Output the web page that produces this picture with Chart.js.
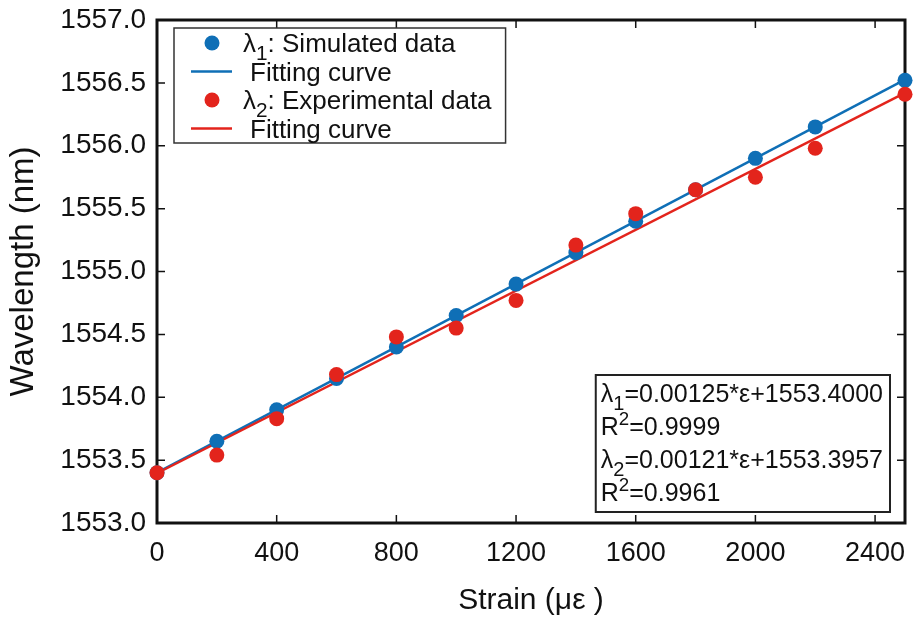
<!DOCTYPE html>
<html>
<head>
<meta charset="utf-8">
<script src="https://cdn.jsdelivr.net/npm/chart.js@4.4.1/dist/chart.umd.min.js"></script>
<style>
  html, body { margin: 0; padding: 0; background: #fff; }
  #wrap { width: 924px; height: 619px; }
</style>
</head>
<body>
<div id="wrap"><canvas id="strainChart"></canvas></div>
<script>
// values
const strain = [0, 200, 400, 600, 800, 1000, 1200, 1400, 1600, 1800, 2000, 2200, 2500];
const simulated = [1553.40, 1553.65, 1553.90, 1554.15, 1554.40, 1554.65, 1554.90, 1555.15, 1555.40, 1555.65, 1555.90, 1556.15, 1556.52];
const experimental = [1553.40, 1553.54, 1553.83, 1554.18, 1554.48, 1554.55, 1554.77, 1555.21, 1555.46, 1555.65, 1555.75, 1555.98, 1556.41];

// fitted lines, end points
const fitStrain = [0, 2500];
const fitSimulated = [1553.4000, 1556.5250];
const fitExperimental = [1553.3957, 1556.4207];

const xTicks = [0, 400, 800, 1200, 1600, 2000, 2400];
const yTicks = [1553.0, 1553.5, 1554.0, 1554.5, 1555.0, 1555.5, 1556.0, 1556.5, 1557.0];

const seriesLabels = ["λ_1: Simulated data", "Fitting curve", "λ_2: Experimental data", "Fitting curve"];
const fitNotes = ["λ_1=0.00125*ε+1553.4000", "R^2=0.9999", "λ_2=0.00121*ε+1553.3957", "R^2=0.9961"];

const BLUE = "#0f6fb6";
const RED = "#e3241c";
const INK = "#111111";
const FONT = "'Liberation Sans', Arial, sans-serif";

function pts(xs, ys) {
  return xs.map((x, i) => ({ x: x, y: ys[i] }));
}

// text with _x subscripts and ^x superscripts, y = baseline
function drawRich(ctx, text, x, y, size, measureOnly) {
  const parts = text.split(/([_^].)/);
  let cx = x;
  parts.forEach((p) => {
    if (!p) return;
    let fs = size, dy = 0, s = p;
    if (p[0] === "_") { s = p.slice(1); fs = size * 0.8; dy = size * 0.3; }
    else if (p[0] === "^") { s = p.slice(1); fs = size * 0.75; dy = -size * 0.42; }
    ctx.font = fs + "px " + FONT;
    if (!measureOnly) ctx.fillText(s, cx, y + dy);
    cx += ctx.measureText(s).width;
  });
  return cx - x;
}

// box frame with inward ticks on all four sides
const frame = {
  id: "frame",
  beforeDatasetsDraw(chart) {
    const { ctx, chartArea: a, scales } = chart;
    ctx.save();
    ctx.strokeStyle = INK;
    ctx.lineWidth = 1.5;
    const len = 8;
    scales.x.ticks.forEach((t) => {
      const px = scales.x.getPixelForValue(t.value);
      ctx.beginPath();
      ctx.moveTo(px, a.bottom); ctx.lineTo(px, a.bottom - len);
      ctx.moveTo(px, a.top); ctx.lineTo(px, a.top + len);
      ctx.stroke();
    });
    scales.y.ticks.forEach((t) => {
      const py = scales.y.getPixelForValue(t.value);
      ctx.beginPath();
      ctx.moveTo(a.left, py); ctx.lineTo(a.left + len, py);
      ctx.moveTo(a.right, py); ctx.lineTo(a.right - len, py);
      ctx.stroke();
    });
    ctx.lineWidth = 3;
    ctx.strokeRect(a.left, a.top, a.right - a.left, a.bottom - a.top);
    ctx.restore();
  },
};

const boxes = {
  id: "boxes",
  afterDatasetsDraw(chart) {
    const { ctx, chartArea: a } = chart;
    ctx.save();
    ctx.textBaseline = "alphabetic";

    // legend, top left
    const size = 26, rowH = 28.5;
    const lx = a.left + 17, ly = a.top + 8;
    let maxW = 0;
    chart.data.datasets.forEach((ds) => {
      maxW = Math.max(maxW, drawRich(ctx, ds.label, 0, 0, size, true));
    });
    const lw = 69 + maxW + 14, lh = 115;
    ctx.fillStyle = "#fff";
    ctx.fillRect(lx, ly, lw, lh);
    ctx.strokeStyle = "#333";
    ctx.lineWidth = 1.5;
    ctx.strokeRect(lx, ly, lw, lh);
    chart.data.datasets.forEach((ds, i) => {
      const cy = ly + 15 + i * rowH;
      let tx;
      if (ds.showLine) {
        ctx.strokeStyle = ds.borderColor;
        ctx.lineWidth = ds.borderWidth;
        ctx.beginPath();
        ctx.moveTo(lx + 17, cy); ctx.lineTo(lx + 58, cy);
        ctx.stroke();
        tx = lx + 76;
      } else {
        ctx.fillStyle = ds.backgroundColor;
        ctx.beginPath();
        ctx.arc(lx + 38, cy, ds.pointRadius, 0, Math.PI * 2);
        ctx.fill();
        tx = lx + 69;
      }
      ctx.fillStyle = INK;
      drawRich(ctx, ds.label, tx, cy + 9, size);
    });

    // fit equations, bottom right
    const fs = 25, lineH = 33;
    let w = 0;
    fitNotes.forEach((t) => { w = Math.max(w, drawRich(ctx, t, 0, 0, fs, true)); });
    const bw = w + 12, bh = 137;
    const bx = a.right - 15 - bw, by = a.bottom - 11 - bh;
    ctx.fillStyle = "#fff";
    ctx.fillRect(bx, by, bw, bh);
    ctx.strokeStyle = "#222";
    ctx.lineWidth = 2;
    ctx.strokeRect(bx, by, bw, bh);
    ctx.fillStyle = INK;
    fitNotes.forEach((t, i) => {
      drawRich(ctx, t, bx + 5, by + 27 + i * lineH, fs);
    });
    ctx.restore();
  },
};

const ctx = document.getElementById("strainChart").getContext("2d");
const strainChart = new Chart(ctx, {
  type: "scatter",
  data: {
    datasets: [
      {
        label: seriesLabels[0],
        data: pts(strain, simulated),
        backgroundColor: BLUE,
        borderWidth: 0,
        pointRadius: 7.5,
        pointHoverRadius: 7.5,
        showLine: false,
        clip: false,
        order: 1,
      },
      {
        label: seriesLabels[1],
        data: pts(fitStrain, fitSimulated),
        borderColor: BLUE,
        borderWidth: 2.5,
        pointRadius: 0,
        showLine: true,
        clip: false,
        order: 3,
      },
      {
        label: seriesLabels[2],
        data: pts(strain, experimental),
        backgroundColor: RED,
        borderWidth: 0,
        pointRadius: 7.5,
        pointHoverRadius: 7.5,
        showLine: false,
        clip: false,
        order: 0,
      },
      {
        label: seriesLabels[3],
        data: pts(fitStrain, fitExperimental),
        borderColor: RED,
        borderWidth: 2.5,
        pointRadius: 0,
        showLine: true,
        clip: false,
        order: 2,
      },
    ],
  },
  options: {
    responsive: true,
    maintainAspectRatio: false,
    animation: false,
    layout: { padding: { top: 20, right: 19, left: 0, bottom: 0 } },
    plugins: {
      legend: { display: false },
      tooltip: { enabled: false },
    },
    scales: {
      x: {
        type: "linear",
        min: 0,
        max: 2500,
        afterBuildTicks: (s) => { s.ticks = xTicks.map((v) => ({ value: v })); },
        afterFit: (s) => { s.height = 96; s.paddingLeft = 0; s.paddingRight = 0; },
        grid: { display: false, drawTicks: false },
        border: { display: false },
        ticks: {
          color: INK,
          padding: 14,
          maxRotation: 0,
          font: { size: 27, family: FONT },
          callback: (v) => String(v),
        },
        title: {
          display: true,
          text: "Strain (με )",
          color: INK,
          padding: { top: 4, bottom: 0 },
          font: { size: 30, family: FONT },
        },
      },
      y: {
        type: "linear",
        min: 1553,
        max: 1557,
        afterBuildTicks: (s) => { s.ticks = yTicks.map((v) => ({ value: v })); },
        afterFit: (s) => { s.width = 157; s.paddingTop = 0; s.paddingBottom = 0; },
        grid: { display: false, drawTicks: false },
        border: { display: false },
        ticks: {
          color: INK,
          padding: 11,
          font: { size: 28, family: FONT },
          callback: (v) => Number(v).toFixed(1),
        },
        title: {
          display: true,
          text: "Wavelength (nm)",
          color: INK,
          padding: { top: 4, bottom: 0 },
          font: { size: 33, family: FONT },
        },
      },
    },
  },
  plugins: [frame, boxes],
});
</script>
</body>
</html>
